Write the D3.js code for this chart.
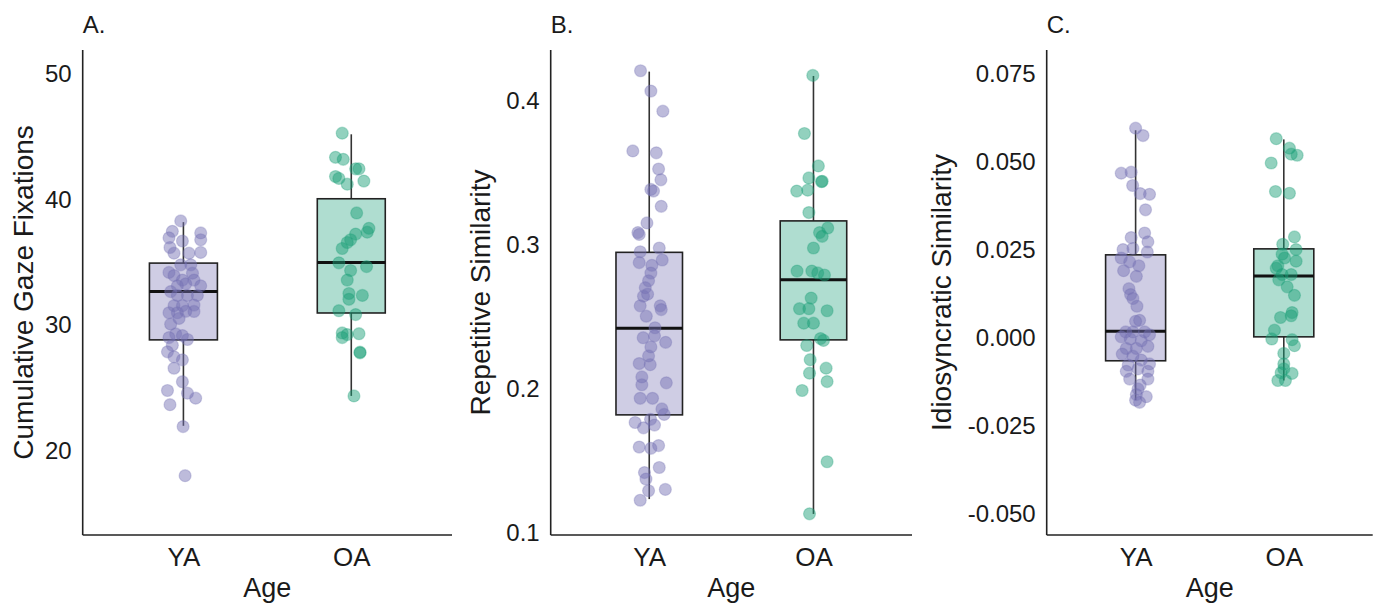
<!DOCTYPE html>
<html><head><meta charset="utf-8">
<script src="https://cdn.jsdelivr.net/npm/d3@7"></script>
<style>
body{margin:0;background:#fff}
svg{display:block}
text{font-family:"Liberation Sans",Arial,Helvetica,sans-serif;fill:#1a1a1a}
</style>
</head><body>
<svg id="chart" width="1381" height="604"></svg>
<script>
// ---------------- DATA ----------------
const categories = ["YA", "OA"];

// Panel A: Cumulative Gaze Fixations
const aTicks = [20, 30, 40, 50];
const aTickLabels = ["20", "30", "40", "50"];
const aDomain = [13.3, 51.9];
const aBoxYA = [21.99, 28.83, 32.67, 34.94, 38.2];   // whiskerLow, Q1, median, Q3, whiskerHigh
const aBoxOA = [24.37, 30.97, 34.99, 40.06, 45.19];
const aValuesYA = [38.3,37.47,37.34,36.8,36.95,36.7,36.18,35.73,35.73,35.79,34.8,34.8,34.2,33.95,34.14,33.59,33.59,33.13,33.13,33.29,32.67,32.37,32.37,32.37,31.55,31.55,31.6,31.1,30.99,30.99,31.09,30.08,30.54,29.3,29.17,28.86,29.01,28.4,27.88,27.48,27.24,26.57,25.5,24.8,24.59,24.19,23.67,21.93,18.02];
const aJitterYA = [-0.016,-0.066,0.103,0.103,-0.086,-0.006,-0.08,-0.056,0.033,0.103,-0.016,0.044,-0.086,-0.056,0.054,-0.006,0.063,0.103,-0.036,0.014,-0.076,0.024,0.083,-0.036,-0.056,-0.006,0.063,0.014,-0.086,-0.036,0.063,-0.076,-0.026,-0.046,-0.006,0.024,-0.086,-0.066,-0.095,-0.056,-0.006,-0.056,-0.006,-0.095,0.024,0.073,-0.08,-0.002,0.01];
const aValuesOA = [45.28,43.36,43.2,42.44,42.44,41.83,41.68,41.22,41.47,38.93,37.71,37.4,37.25,36.8,36.58,36.1,34.96,34.35,34.66,33.59,32.52,32.37,32.06,31.15,30.84,29.38,29.25,29.32,29.01,27.85,27.8,24.37];
const aJitterOA = [-0.054,-0.094,-0.048,0.026,0.046,-0.094,-0.074,-0.024,0.075,0.032,0.105,0.095,0.026,-0.004,-0.024,-0.054,-0.074,-0.004,0.091,-0.024,-0.014,0.066,-0.014,-0.074,0.026,-0.054,-0.024,0.046,-0.054,0.052,0.052,0.016];

// Panel B: Repetitive Similarity
const bTicks = [0.1, 0.2, 0.3, 0.4];
const bTickLabels = ["0.1", "0.2", "0.3", "0.4"];
const bDomain = [0.0987, 0.435];
const bBoxYA = [0.1236, 0.182, 0.242, 0.2947, 0.420];
const bBoxOA = [0.1133, 0.234, 0.2757, 0.3165, 0.417];
const bValuesYA = [0.4206,0.4065,0.3926,0.365,0.3637,0.3525,0.345,0.3383,0.3372,0.3266,0.3151,0.3084,0.3071,0.2977,0.2951,0.2876,0.2857,0.2894,0.2803,0.275,0.2702,0.2643,0.2657,0.2576,0.2576,0.255,0.2504,0.2424,0.2355,0.2368,0.2323,0.2291,0.2229,0.2176,0.2168,0.2083,0.2029,0.2042,0.1935,0.1935,0.1861,0.1823,0.1767,0.173,0.1749,0.1789,0.1597,0.1588,0.1607,0.142,0.1455,0.1375,0.1294,0.1303,0.1228];
const bJitterYA = [-0.053,0.01,0.083,-0.1,0.043,0.057,0.071,0.01,0.026,0.073,-0.014,-0.069,-0.061,0.061,-0.055,-0.061,0.016,0.079,0.01,-0.004,-0.024,-0.035,-0.01,-0.055,0.067,0.073,-0.018,0.035,-0.037,0.032,0.1,0.01,-0.004,-0.061,0.006,-0.045,-0.045,0.104,-0.055,0.02,0.077,0.091,-0.086,-0.035,0.032,0.008,-0.061,0.01,0.057,-0.029,0.061,-0.02,-0.004,0.098,-0.055];
const bValuesOA = [0.4174,0.3771,0.3546,0.3463,0.344,0.3437,0.3372,0.3378,0.3223,0.3116,0.3084,0.3058,0.2977,0.2817,0.2817,0.2804,0.279,0.263,0.2556,0.2556,0.2542,0.2456,0.2456,0.2349,0.2336,0.2301,0.2203,0.2144,0.2109,0.2051,0.1989,0.1495,0.1134];
const bJitterOA = [-0.004,-0.055,0.03,-0.028,0.053,0.049,-0.102,-0.035,-0.028,0.087,0.037,0.053,0,-0.1,-0.01,0.026,0.067,-0.014,-0.085,-0.028,0.083,-0.059,0,0.043,0.061,-0.041,-0.02,0.077,-0.024,0.083,-0.069,0.083,-0.024];

// Panel C: Idiosyncratic Similarity
const cTicks = [-0.05, -0.025, 0, 0.025, 0.05, 0.075];
const cTickLabels = ["-0.050", "-0.025", "0.000", "0.025", "0.050", "0.075"];
const cDomain = [-0.056, 0.0818];
const cBoxYA = [-0.0177, -0.0065, 0.0019, 0.0236, 0.059];
const cBoxOA = [-0.0121, 0.0003, 0.0176, 0.0253, 0.0564];
const cValuesYA = [0.0596,0.0575,0.0468,0.0471,0.0433,0.041,0.0408,0.0364,0.0298,0.0285,0.0273,0.0251,0.0254,0.0244,0.0227,0.0216,0.0205,0.0191,0.0175,0.014,0.0123,0.0112,0.009,0.005,0.0047,0.0017,0.0017,0.0017,0.0003,-0.0003,-0.0008,0.0009,-0.003,-0.003,-0.0024,-0.0046,-0.0052,-0.0063,-0.0074,-0.0077,-0.0088,-0.0095,-0.0095,-0.0117,-0.0117,-0.0134,-0.0145,-0.0161,-0.0167,-0.0183,-0.0177];
const cJitterYA = [0,0.05,-0.097,-0.03,-0.02,0.031,0.094,0.067,0.061,-0.03,0.083,-0.085,-0.018,0.079,-0.097,-0.04,0.022,-0.081,0.005,-0.045,-0.034,-0.018,0.009,0.027,0,-0.067,-0.018,0.061,-0.097,-0.036,0.038,0.094,-0.063,0.005,0.083,-0.09,-0.018,0.038,0.094,-0.05,0.016,0.083,-0.063,-0.04,0.083,0.031,0.016,0.005,0.072,0.027,0];
const cValuesOA = [0.0566,0.0539,0.0522,0.0519,0.0497,0.0416,0.0411,0.0287,0.0266,0.0251,0.0238,0.0227,0.0218,0.0205,0.0198,0.018,0.018,0.0165,0.0145,0.0121,0.0072,0.0063,0.0058,0.0022,-0.0003,-0.0005,-0.0022,-0.0044,-0.0074,-0.0088,-0.0099,-0.0101,-0.0121,-0.0121];
const cJitterOA = [-0.051,0.038,0.05,0.09,-0.085,-0.056,0.038,0.072,-0.007,0.083,-0.011,0.005,0.083,-0.04,-0.051,-0.011,0.05,-0.034,0.023,0.072,0.056,0.05,-0.022,-0.063,-0.081,0.056,0.072,0,0,0,-0.018,0.056,-0.04,0.011];

// ---------------- DRAWING ----------------
const svg = d3.select("#chart");
svg.append("rect").attr("width", 1381).attr("height", 604).attr("fill", "#fff");
const plotTop = 50, plotBottom = 535;
const groupColor = {YA: "#7570B3", OA: "#1B9E77"};
const axisColor = "#222";

const panels = [
  {letter: "A.", title: "Cumulative Gaze Fixations", left: 82.7, right: 452, titleX: 33,
   domain: aDomain, ticks: aTicks, tickLabels: aTickLabels,
   boxes: [aBoxYA, aBoxOA], values: [aValuesYA, aValuesOA], jitter: [aJitterYA, aJitterOA]},
  {letter: "B.", title: "Repetitive Similarity", left: 550.7, right: 912, titleX: 490,
   domain: bDomain, ticks: bTicks, tickLabels: bTickLabels,
   boxes: [bBoxYA, bBoxOA], values: [bValuesYA, bValuesOA], jitter: [bJitterYA, bJitterOA]},
  {letter: "C.", title: "Idiosyncratic Similarity", left: 1046.7, right: 1372.7, titleX: 951,
   domain: cDomain, ticks: cTicks, tickLabels: cTickLabels,
   boxes: [cBoxYA, cBoxOA], values: [cValuesYA, cValuesOA], jitter: [cJitterYA, cJitterOA]}
];

panels.forEach(p => {
  const x = d3.scalePoint().domain(categories).range([p.left, p.right]).padding(0.6);
  const step = x.step();
  const y = d3.scaleLinear().domain(p.domain).range([plotBottom, plotTop]);
  const g = svg.append("g");

  // boxes + whiskers
  categories.forEach((c, i) => {
    const s = p.boxes[i];
    const cx = x(c);
    const w = step * 0.405;
    g.append("line").attr("x1", cx).attr("x2", cx).attr("y1", y(s[0])).attr("y2", y(s[1]))
      .attr("stroke", "#333").attr("stroke-width", 1.6);
    g.append("line").attr("x1", cx).attr("x2", cx).attr("y1", y(s[3])).attr("y2", y(s[4]))
      .attr("stroke", "#333").attr("stroke-width", 1.6);
    g.append("rect").attr("x", cx - w / 2).attr("y", y(s[3])).attr("width", w)
      .attr("height", y(s[1]) - y(s[3]))
      .attr("fill", groupColor[c]).attr("fill-opacity", 0.35)
      .attr("stroke", "#222").attr("stroke-width", 1.6);
    g.append("line").attr("x1", cx - w / 2).attr("x2", cx + w / 2).attr("y1", y(s[2])).attr("y2", y(s[2]))
      .attr("stroke", "#111").attr("stroke-width", 3);
  });

  // jittered points
  categories.forEach((c, i) => {
    const jit = p.jitter[i];
    g.append("g").selectAll("circle").data(p.values[i]).join("circle")
      .attr("cx", (d, k) => x(c) + jit[k] * step)
      .attr("cy", d => y(d))
      .attr("r", 6)
      .attr("fill", groupColor[c]).attr("fill-opacity", 0.48)
      .attr("stroke", groupColor[c]).attr("stroke-opacity", 0.3).attr("stroke-width", 1.2);
  });

  // y axis
  const ya = g.append("g").attr("transform", `translate(${p.left},0)`)
    .call(d3.axisLeft(y).tickValues(p.ticks).tickFormat((d, i) => p.tickLabels[i]).tickSize(0).tickPadding(11));
  ya.select(".domain").remove();
  ya.selectAll("text").style("font-size", "24px").attr("fill", "#1a1a1a");

  // x axis
  const xa = g.append("g").attr("transform", `translate(0,${plotBottom})`)
    .call(d3.axisBottom(x).tickSize(0).tickPadding(13));
  xa.select(".domain").remove();
  xa.selectAll("text").style("font-size", "26px").attr("fill", "#1a1a1a");

  // axis lines
  g.append("line").attr("x1", p.left).attr("x2", p.left).attr("y1", plotTop).attr("y2", plotBottom)
    .attr("stroke", axisColor).attr("stroke-width", 1.6);
  g.append("line").attr("x1", p.left).attr("x2", p.right).attr("y1", plotBottom).attr("y2", plotBottom)
    .attr("stroke", axisColor).attr("stroke-width", 1.6);

  // titles
  g.append("text").attr("x", (p.left + p.right) / 2).attr("y", 597).attr("text-anchor", "middle")
    .style("font-size", "27px").text("Age");
  g.append("text").attr("transform", `translate(${p.titleX},${(plotTop + plotBottom) / 2}) rotate(-90)`)
    .attr("text-anchor", "middle").style("font-size", "28px").text(p.title);
  g.append("text").attr("x", p.left).attr("y", 33).style("font-size", "24px").text(p.letter);
});
</script>
</body></html>
